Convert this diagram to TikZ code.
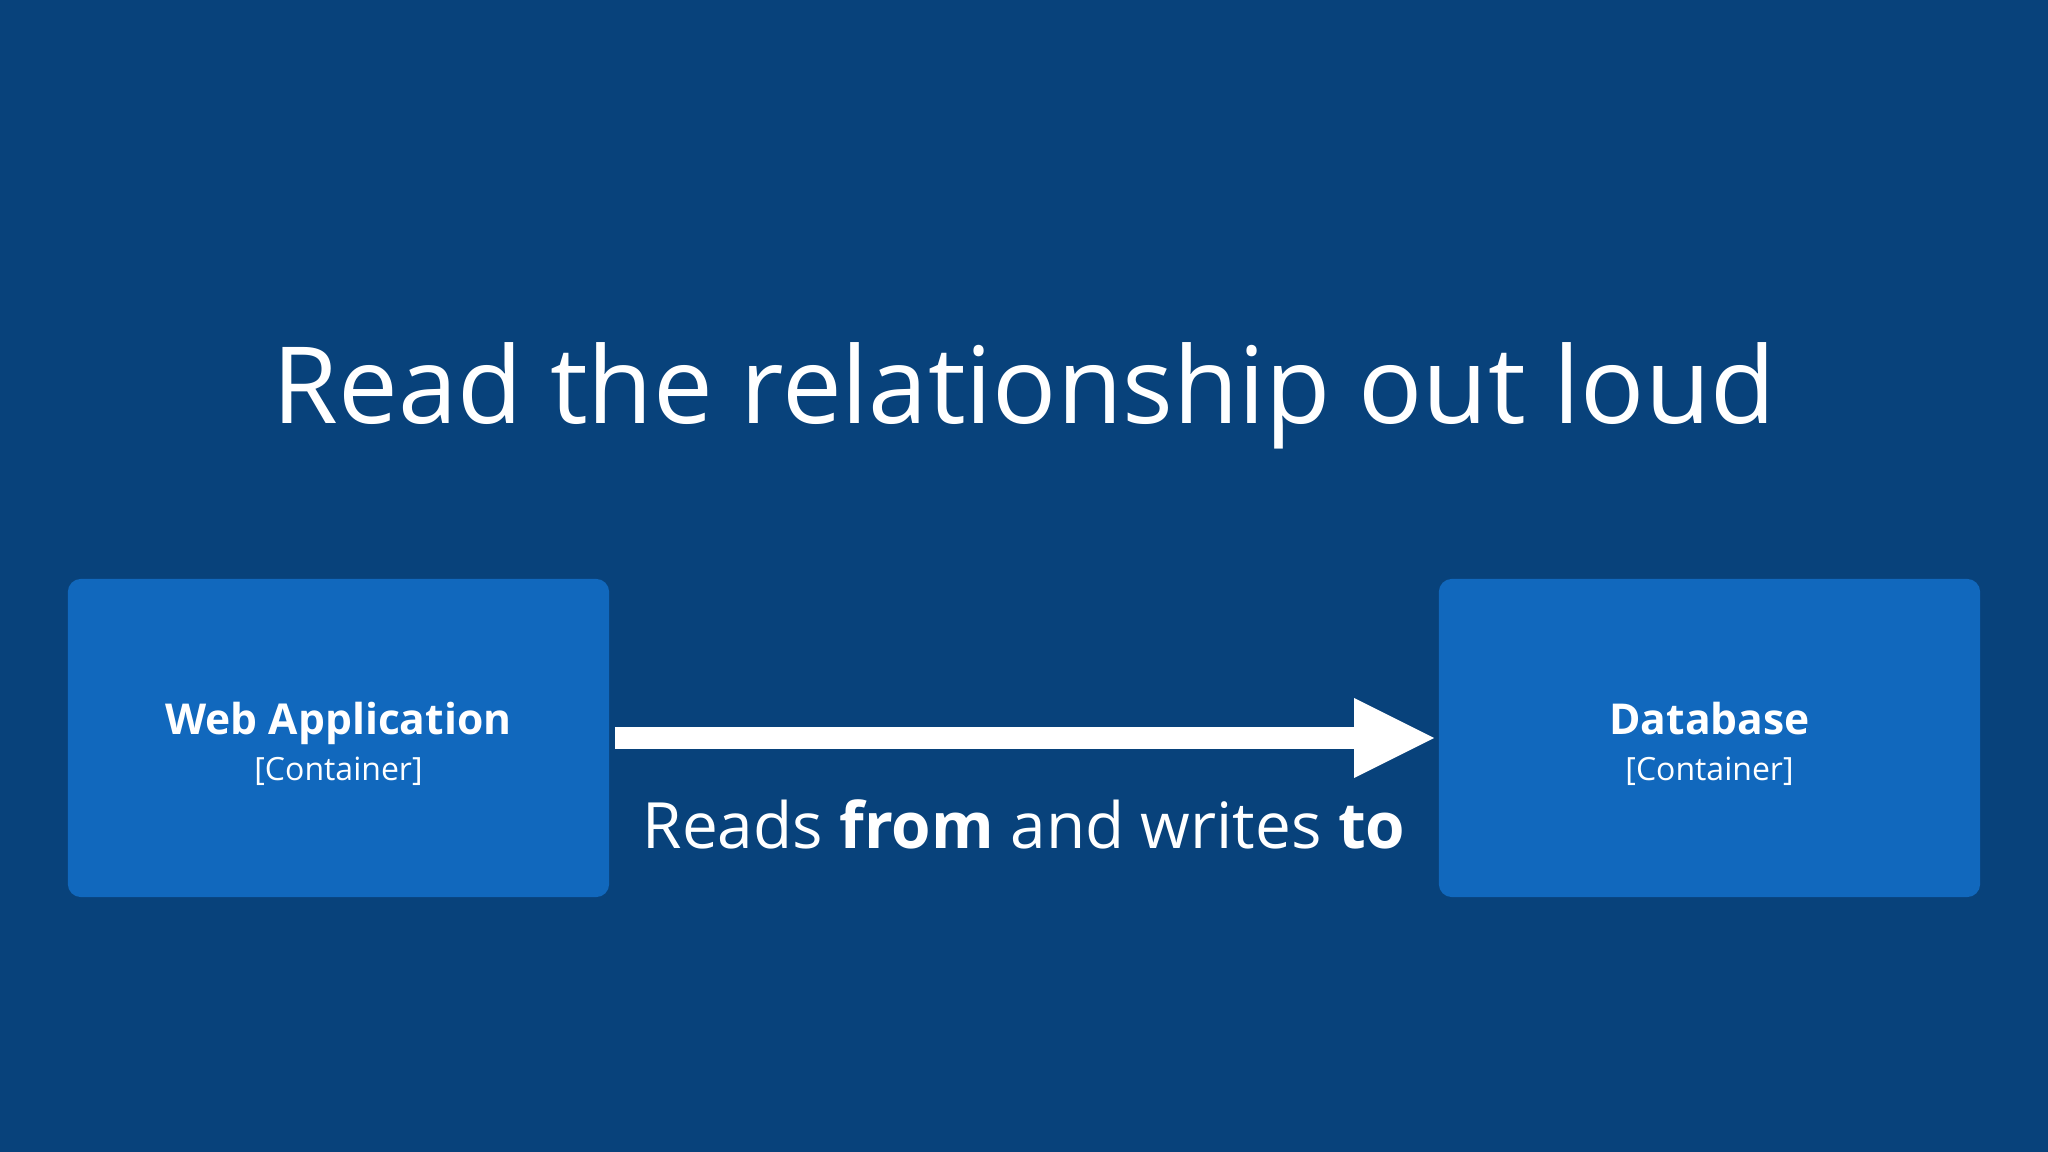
\documentclass[tikz,border=0pt]{standalone}
\usepackage{fontspec}
\setmainfont{Open Sans}
\usetikzlibrary{arrows.meta}
\definecolor{slidebg}{HTML}{08427B}
\definecolor{containerblue}{HTML}{1168BD}
\tikzset{
	container/.style={fill=containerblue, rounded corners=0.13cm, minimum width=5.41cm, minimum height=3.18cm, inner sep=0pt},
	boxname/.style={text=white, anchor=base, inner sep=0pt, font=\fontsize{12.1}{14}\selectfont\bfseries},
	boxtype/.style={text=white, anchor=base, inner sep=0pt, font=\fontsize{9.1}{11}\selectfont},
	relation/.style={draw=white, line width=0.21cm, -{Triangle[width=0.8cm, length=0.8cm, line width=0pt]}, shorten <=0.05cm, shorten >=0.04cm}
}

\begin{document}
\begin{tikzpicture}[x=0.01cm, y=-0.01cm]
	% slide: 2048 x 1152, one unit = one pixel, y going down
	\fill[slidebg] (0, 0) rectangle (2048, 1152);
	\useasboundingbox (0, 0) rectangle (2048, 1152);
	
	\node[text=white, anchor=base, inner sep=0pt, font=\fontsize{30.3}{36}\selectfont] (title) at (1024, 424) {Read the relationship out loud};
	
	% containers
	\node[container] (webapp) at (338.5, 738) {};
	\node[boxname] (webappname) at (338.5, 735) {Web Application};
	\node[boxtype] (webapptype) at (338.5, 780) {[Container]};
	
	\node[container] (database) at (1709.5, 738) {};
	\node[boxname] (databasename) at (1709.5, 735) {Database};
	\node[boxtype] (databasetype) at (1709.5, 780) {[Container]};
	
	% relationship
	\draw[relation] (webapp) -- (database);
	\node[text=white, anchor=base, inner sep=0pt, font=\fontsize{18.15}{22}\selectfont] (readswrites) at (1024, 848) {Reads \textbf{from} and writes \textbf{to}};
\end{tikzpicture}
\end{document}
